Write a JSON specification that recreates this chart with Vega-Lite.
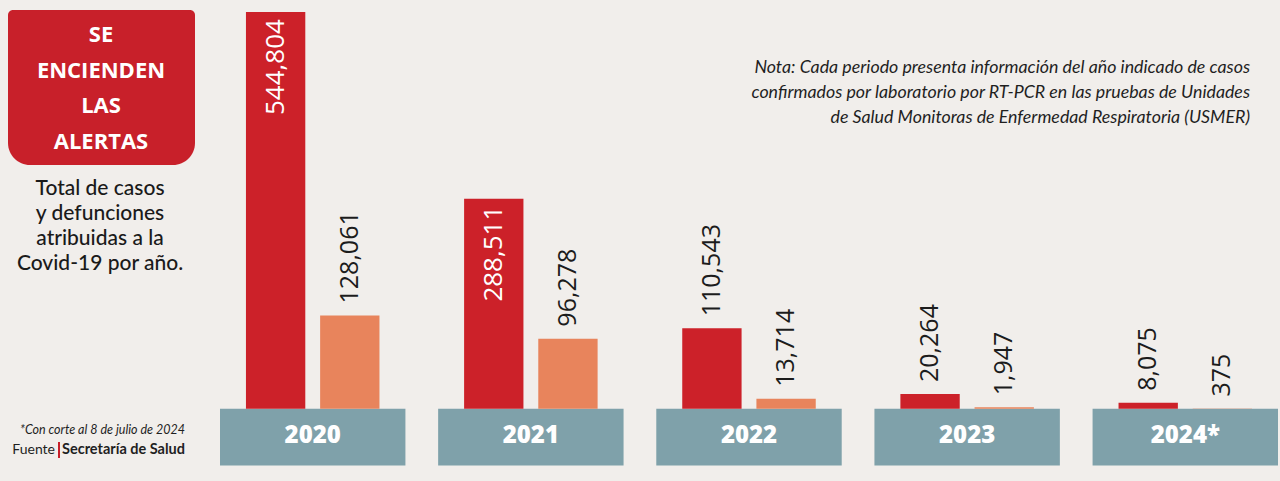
{
  "$schema": "https://vega.github.io/schema/vega-lite/v6.json",
  "width": 1058,
  "height": 466,
  "autosize": {"type": "none"},
  "padding": {"left": 220, "top": 1, "right": 2, "bottom": 14},
  "background": "#f1eeeb",
  "config": {"view": {"stroke": null}},
  "datasets": {
    "covid": [
      {"anio": "2020", "serie": "Casos", "valor": 544804},
      {"anio": "2020", "serie": "Defunciones", "valor": 128061},
      {"anio": "2021", "serie": "Casos", "valor": 288511},
      {"anio": "2021", "serie": "Defunciones", "valor": 96278},
      {"anio": "2022", "serie": "Casos", "valor": 110543},
      {"anio": "2022", "serie": "Defunciones", "valor": 13714},
      {"anio": "2023", "serie": "Casos", "valor": 20264},
      {"anio": "2023", "serie": "Defunciones", "valor": 1947},
      {"anio": "2024*", "serie": "Casos", "valor": 8075},
      {"anio": "2024*", "serie": "Defunciones", "valor": 375}
    ],
    "anios": [
      {"anio": "2020"}, {"anio": "2021"}, {"anio": "2022"}, {"anio": "2023"}, {"anio": "2024*"}
    ]
  },
  "layer": [
    {
      "data": {"name": "anios"},
      "mark": {"type": "bar", "color": "#7fa1aa"},
      "encoding": {
        "x": {"field": "anio", "type": "nominal", "axis": null,
              "scale": {"domain": ["2020", "2021", "2022", "2023", "2024*"], "paddingInner": 0.15, "paddingOuter": 0}},
        "y": {"datum": 0, "type": "quantitative", "axis": null,
              "scale": {"domain": [-80000, 560000], "nice": false, "zero": false}},
        "y2": {"datum": -78000}
      }
    },
    {
      "data": {"name": "covid"},
      "mark": {"type": "bar"},
      "encoding": {
        "x": {"field": "anio", "type": "nominal"},
        "xOffset": {"field": "serie", "type": "nominal", "scale": {"domain": ["Casos", "Defunciones"], "paddingInner": 0.2, "paddingOuter": 0.35}},
        "y": {"field": "valor", "type": "quantitative"},
        "y2": {"datum": 0},
        "color": {"field": "serie", "type": "nominal", "legend": null,
                  "scale": {"domain": ["Casos", "Defunciones"], "range": ["#cc2129", "#e8845c"]}}
      }
    },
    {
      "data": {"name": "covid"},
      "transform": [{"filter": "datum.valor < 200000"}],
      "mark": {"type": "text", "angle": 270, "align": "left", "baseline": "middle", "dx": 12,
               "font": "Open Sans", "fontSize": 25, "fill": "#1c1c1c"},
      "encoding": {
        "x": {"field": "anio", "type": "nominal"},
        "xOffset": {"field": "serie", "type": "nominal"},
        "y": {"field": "valor", "type": "quantitative"},
        "text": {"field": "valor", "type": "quantitative", "format": ",d"}
      }
    },
    {
      "data": {"name": "covid"},
      "transform": [{"filter": "datum.valor >= 200000"}],
      "mark": {"type": "text", "angle": 270, "align": "right", "baseline": "middle", "dx": -7,
               "font": "Open Sans", "fontSize": 26, "fill": "#ffffff"},
      "encoding": {
        "x": {"field": "anio", "type": "nominal"},
        "xOffset": {"field": "serie", "type": "nominal"},
        "y": {"field": "valor", "type": "quantitative"},
        "text": {"field": "valor", "type": "quantitative", "format": ",d"}
      }
    },
    {
      "data": {"name": "anios"},
      "mark": {"type": "text", "align": "center", "baseline": "middle", "font": "Open Sans",
               "fontWeight": 800, "fontSize": 24, "fill": "#ffffff"},
      "encoding": {
        "x": {"field": "anio", "type": "nominal"},
        "y": {"datum": -38000, "type": "quantitative"},
        "text": {"field": "anio", "type": "nominal"}
      }
    },
    {
      "data": {"values": [{}]},
      "mark": {"type": "rect", "x": -212, "x2": -25, "y": 9, "y2": 164, "color": "#c8202a",
               "cornerRadiusTopLeft": 5, "cornerRadiusTopRight": 5,
               "cornerRadiusBottomLeft": 22, "cornerRadiusBottomRight": 22},
      "encoding": {}
    },
    {
      "data": {"values": [{}]},
      "mark": {"type": "text", "x": -119, "y": 24, "align": "center", "baseline": "top",
               "lineHeight": 35.5, "font": "Open Sans", "fontWeight": "bold", "fontSize": 22,
               "fill": "#ffffff",
               "text": ["SE", "ENCIENDEN", "LAS", "ALERTAS"]},
      "encoding": {}
    },
    {
      "data": {"values": [{}]},
      "mark": {"type": "text", "x": -120, "y": 177, "align": "center", "baseline": "top",
               "lineHeight": 25, "font": "Lato", "fontWeight": 500, "fontSize": 21, "fill": "#1a1a1a",
               "text": ["Total de casos", "y defunciones", "atribuidas a la", "Covid-19 por año."]},
      "encoding": {}
    },
    {
      "data": {"values": [{}]},
      "mark": {"type": "text", "x": -35, "y": 429, "align": "right", "baseline": "middle",
               "font": "Lato", "fontStyle": "italic", "fontSize": 12.5, "fill": "#1f1f1f",
               "text": "*Con corte al 8 de julio de 2024"},
      "encoding": {}
    },
    {
      "data": {"values": [{}]},
      "mark": {"type": "text", "x": -35, "y": 449, "align": "right", "baseline": "middle",
               "font": "Lato", "fontWeight": "bold", "fontSize": 14.5, "fill": "#1f1f1f",
               "text": "Secretaría de Salud"},
      "encoding": {}
    },
    {
      "data": {"values": [{}]},
      "mark": {"type": "text", "x": -165, "y": 449, "align": "right", "baseline": "middle",
               "font": "Lato", "fontSize": 14, "fill": "#1f1f1f",
               "text": "Fuente"},
      "encoding": {}
    },
    {
      "data": {"values": [{}]},
      "mark": {"type": "rect", "x": -162, "x2": -160, "y": 441, "y2": 457, "color": "#c8202a"},
      "encoding": {}
    },
    {
      "data": {"values": [{}]},
      "mark": {"type": "text", "x": 1030, "y": 58, "align": "right", "baseline": "top",
               "lineHeight": 25, "font": "Lato", "fontStyle": "italic", "fontSize": 17.8, "fill": "#1f1f1f",
               "text": ["Nota: Cada periodo presenta información del año indicado de casos",
                        "confirmados por laboratorio por RT-PCR en las pruebas de Unidades",
                        "de Salud Monitoras de Enfermedad Respiratoria  (USMER)"]},
      "encoding": {}
    }
  ]
}
